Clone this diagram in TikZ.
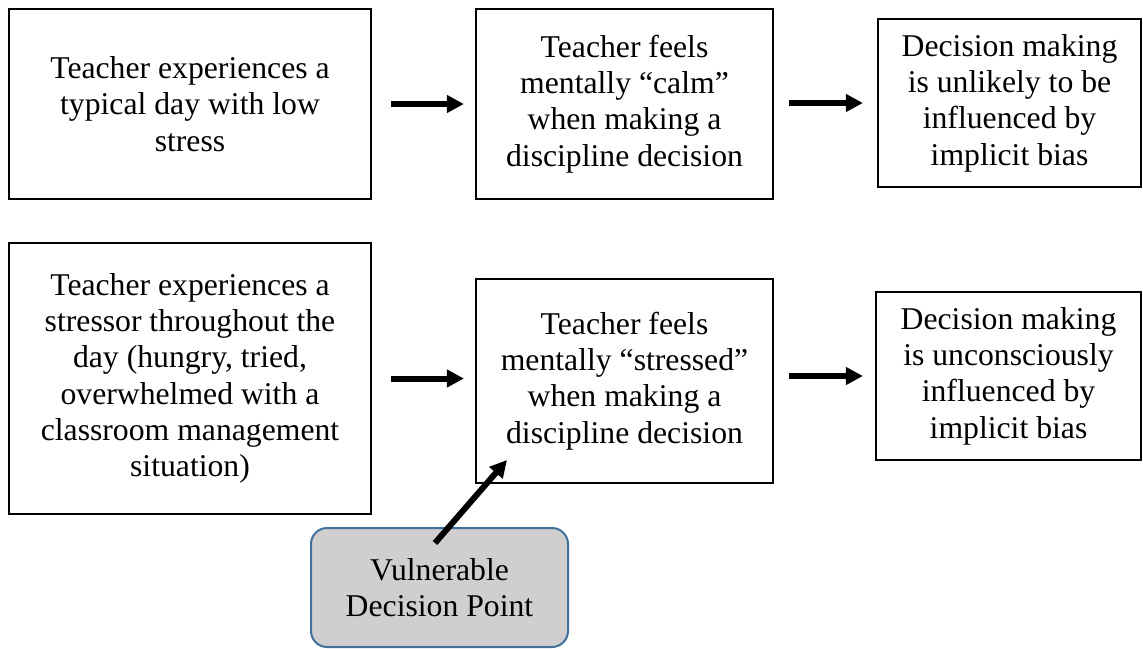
\documentclass[tikz,border=0pt]{standalone}
\usepackage{fontspec}
\setmainfont{Liberation Serif}
\usetikzlibrary{arrows.meta}
\definecolor{vpgray}{RGB}{208,206,206}
\definecolor{vpblue}{RGB}{65,113,156}

\begin{document}
\begin{tikzpicture}[x=1pt,y=-1pt,
	stepbox/.style={draw, line width=2.2pt, align=center, inner sep=0pt, font=\fontsize{31.7}{36.3}\selectfont},
	fatarrow/.style={line width=6pt, -{Triangle[length=17pt,width=17pt]}}]
\useasboundingbox (0,0) rectangle (1143,648);
% low stress row
\node[stepbox, minimum width=362pt, minimum height=190pt] (calmday) at (190,104) {Teacher experiences a\\typical day with low\\stress};
\node[stepbox, minimum width=297pt, minimum height=190pt] (calmfeel) at (624.5,104) {Teacher feels\\mentally “calm”\\when making a\\discipline decision};
\node[stepbox, minimum width=263pt, minimum height=168pt] (calmbias) at (1009.5,103) {Decision making\\is unlikely to be\\influenced by\\implicit bias};
% stressed row
\node[stepbox, minimum width=362pt, minimum height=271pt] (stressday) at (190,378.5) {Teacher experiences a\\stressor throughout the\\day (hungry, tried,\\overwhelmed with a\\classroom management\\situation)};
\node[stepbox, minimum width=297pt, minimum height=204pt] (stressfeel) at (624.5,381) {Teacher feels\\mentally “stressed”\\when making a\\discipline decision};
\node[stepbox, minimum width=265pt, minimum height=168pt] (stressbias) at (1008.5,376) {Decision making\\is unconsciously\\influenced by\\implicit bias};
\node[stepbox, draw=vpblue, fill=vpgray, line width=2pt, rounded corners=16pt, minimum width=257pt, minimum height=119pt] (vp) at (439.5,587.5) {Vulnerable\\Decision Point};
\coordinate (vptail) at (435,543);
\coordinate (vptip) at (507,460);
\draw[fatarrow, shorten <=19pt, shorten >=11pt] (calmday.east) -- (calmday.east -| calmfeel.west);
\draw[fatarrow, shorten <=15pt, shorten >=14pt] (calmfeel.east |- calmbias.west) -- (calmbias.west);
\draw[fatarrow, shorten <=19pt, shorten >=11pt] (stressday.east) -- (stressday.east -| stressfeel.west);
\draw[fatarrow, shorten <=15pt, shorten >=12pt] (stressfeel.east |- stressbias.west) -- (stressbias.west);
\draw[fatarrow] (vptail) -- (vptip);
\end{tikzpicture}
\end{document}
